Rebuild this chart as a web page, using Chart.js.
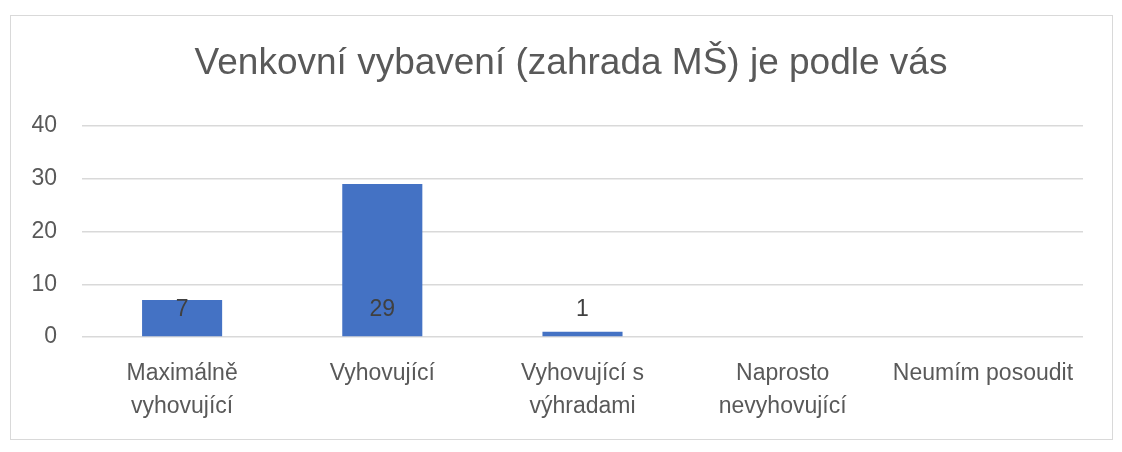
<!DOCTYPE html>
<html>
<head>
<meta charset="utf-8">
<script src="https://cdn.jsdelivr.net/npm/chart.js@4/dist/chart.umd.min.js"></script>
<style>
  body { margin: 0; background: #fff; }
  #box {
    position: absolute; left: 10px; top: 15px;
    width: 1101px; height: 423px;
    border: 1px solid #d9d9d9; background: #fff;
  }
  #box canvas { display: block; }
</style>
</head>
<body>
<div id="box"><canvas id="outdoorChart" width="1101" height="423"></canvas></div>
<script>
// kategorie odpovědí
const categories = [
    ['Maximálně', 'vyhovující'],
    'Vyhovující',
    ['Vyhovující s', 'výhradami'],
    ['Naprosto', 'nevyhovující'],
    'Neumím posoudit'
];
// počet odpovědí
const answers = [7, 29, 1, 0, 0];
const yTicks = [0, 10, 20, 30, 40];

const FONT = '"Liberation Sans", Arial, sans-serif';
const TEXT = '#595959';

// popisky hodnot – všechny ve stejné výšce nad nulou, jako v originále
const valueLabels = {
    id: 'valueLabels',
    afterDatasetsDraw(chart) {
        const ctx = chart.ctx;
        const meta = chart.getDatasetMeta(0);
        const y0 = chart.scales.y.getPixelForValue(0);
        ctx.save();
        ctx.font = '23px ' + FONT;
        ctx.fillStyle = '#404040';
        ctx.textAlign = 'center';
        ctx.textBaseline = 'middle';
        meta.data.forEach((bar, i) => {
            if (!answers[i]) return;
            ctx.fillText(String(answers[i]), bar.x, y0 - 27);
        });
        ctx.restore();
    }
};

new Chart(document.getElementById('outdoorChart'), {
    type: 'bar',
    data: {
        labels: categories,
        datasets: [{
            data: answers,
            backgroundColor: '#4472c4',
            barPercentage: 0.4,
            categoryPercentage: 1
        }]
    },
    options: {
        responsive: false,
        animation: false,
        // nadpis je v originále mírně vpravo od středu
        layout: { padding: { left: 19, right: 0, top: 0, bottom: 0 } },
        plugins: {
            legend: { display: false },
            tooltip: { enabled: false },
            title: {
                display: true,
                text: 'Venkovní vybavení (zahrada MŠ) je podle vás',
                color: TEXT,
                font: { family: FONT, size: 37, weight: 'normal' },
                padding: { top: 26, bottom: 39.6 }
            }
        },
        scales: {
            x: {
                afterFit(scale) { scale.height = 102; },
                grid: { display: false, drawTicks: false },
                border: { display: false },
                ticks: {
                    color: TEXT,
                    font: { family: FONT, size: 23, lineHeight: 1.4 },
                    padding: 21,
                    maxRotation: 0,
                    autoSkip: false
                }
            },
            y: {
                min: 0,
                max: 40,
                afterBuildTicks(scale) { scale.ticks = yTicks.map(v => ({ value: v })); },
                afterFit(scale) { scale.width = 52; },
                grid: { color: '#d9d9d9', lineWidth: 1.5, drawTicks: false },
                border: { display: false },
                ticks: {
                    color: TEXT,
                    font: { family: FONT, size: 23 },
                    padding: 25
                }
            },
            // prázdná osa vpravo jen jako okraj
            yRight: {
                position: 'right',
                afterFit(scale) { scale.width = 29; },
                grid: { display: false, drawTicks: false },
                border: { display: false },
                ticks: { display: false }
            }
        }
    },
    plugins: [valueLabels]
});
</script>
</body>
</html>
